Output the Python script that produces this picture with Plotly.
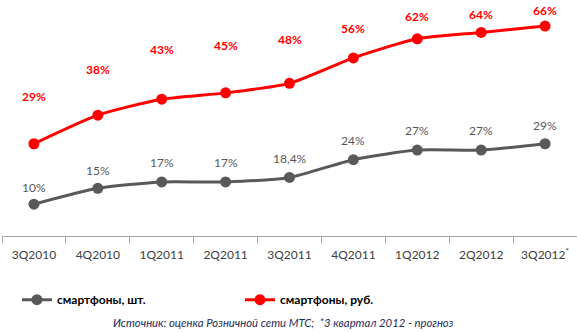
import plotly.graph_objects as go

categories = ["3Q2010", "4Q2010", "1Q2011", "2Q2011", "3Q2011", "4Q2011", "1Q2012", "2Q2012", "3Q2012*"]
tick_text = ["3Q2010", "4Q2010", "1Q2011", "2Q2011", "3Q2011", "4Q2011", "1Q2012", "2Q2012", "3Q2012<sup>*</sup>"]
units = [10, 15, 17, 17, 18.4, 24, 27, 27, 29]
units_labels = ["10%", "15%", "17%", "17%", "18,4%", "24%", "27%", "27%", "29%"]
rubles = [29, 38, 43, 45, 48, 56, 62, 64, 66]
rubles_labels = ["29%", "38%", "43%", "45%", "48%", "56%", "62%", "64%", "66%"]

# label offsets above points (px) - styling only
units_offsets = [17, 18, 19, 19, 19, 19, 20, 20, 18]
rubles_offsets = [47, 46, 50, 47, 44, 29, 22, 18, 16]

GRAY = "#595959"
RED = "#FF0000"
FONT = "Lato, 'Open Sans', sans-serif"

fig = go.Figure()
fig.add_trace(go.Scatter(
    x=categories, y=units, name="<b>смартфоны, шт.</b>", mode="lines+markers",
    line=dict(color=GRAY, width=3, shape="spline", smoothing=0.6),
    marker=dict(color=GRAY, size=11),
))
fig.add_trace(go.Scatter(
    x=categories, y=rubles, name="<b>смартфоны, руб.</b>", mode="lines+markers",
    line=dict(color=RED, width=3, shape="spline", smoothing=0.6),
    marker=dict(color=RED, size=11),
))

annotations = []
for c, v, t, o in zip(categories, units, units_labels, units_offsets):
    annotations.append(dict(x=c, y=v, text=t, showarrow=False, yshift=o,
                            font=dict(family=FONT, size=12, color=GRAY)))
for c, v, t, o in zip(categories, rubles, rubles_labels, rubles_offsets):
    annotations.append(dict(x=c, y=v, text="<b>" + t + "</b>", showarrow=False, yshift=o,
                            font=dict(family=FONT, size=12, color=RED)))
annotations.append(dict(
    xref="paper", yref="paper", x=0.49, y=-0.365, xanchor="center", yanchor="middle",
    text="<i>Источник: оценка Розничной сети МТС;  *3 квартал 2012 - прогноз</i>",
    showarrow=False, font=dict(family=FONT, size=11.3, color="#1F2A5C"),
))

fig.update_layout(
    width=577, height=332,
    margin=dict(l=2, r=0, t=0, b=96),
    paper_bgcolor="white", plot_bgcolor="white",
    font=dict(family=FONT, size=12, color="#404040"),
    showlegend=True,
    legend=dict(orientation="h", x=0.026, y=-0.27, xanchor="left", yanchor="middle",
                entrywidth=178, entrywidthmode="pixels",
                font=dict(family=FONT, size=12, color="#000000"),
                bgcolor="rgba(0,0,0,0)"),
    annotations=annotations,
)
fig.update_xaxes(
    type="category", tickvals=categories, ticktext=tick_text,
    showline=True, linecolor="#A6A6A6", linewidth=1,
    ticks="outside", tickson="boundaries", ticklen=6, tickcolor="#A6A6A6",
    ticklabelstandoff=8,
    showgrid=False, tickfont=dict(family=FONT, size=12, color="#404040"),
    range=[-0.5, 8.5],
)
fig.update_yaxes(range=[0, 74.2], visible=False, showgrid=False, zeroline=False)

fig.write_html("out.html")
